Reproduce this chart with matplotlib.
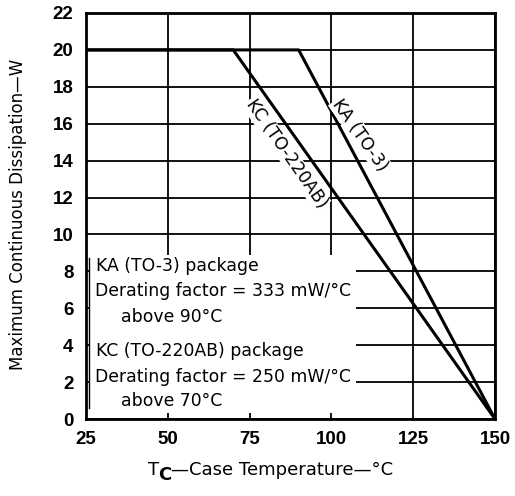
import matplotlib
matplotlib.use("Agg")
import matplotlib.pyplot as plt
from matplotlib.patches import Rectangle

plt.rcParams['font.family'] = ['Liberation Sans', 'DejaVu Sans']

# Data
ka_temp = [25, 90, 150]
ka_power = [20, 20, 0]
kc_temp = [25, 70, 150]
kc_power = [20, 20, 0]
x_ticks = [25, 50, 75, 100, 125, 150]
y_ticks = [0, 2, 4, 6, 8, 10, 12, 14, 16, 18, 20, 22]

fig = plt.figure(figsize=(5.15, 4.96), dpi=100)
ax = fig.add_axes([86/515, 1-419/496, (495-86)/515, (419-13)/496])
ax.set_xlim(25, 150)
ax.set_ylim(0, 22)
ax.set_xticks(x_ticks)
ax.set_yticks(y_ticks)
ax.tick_params(length=0, labelsize=13.5, pad=9)
for lab in ax.get_xticklabels() + ax.get_yticklabels():
    lab.set_fontweight('bold')
ax.grid(True, color='black', linewidth=1.3)
ax.set_axisbelow(True)
for s in ax.spines.values():
    s.set_linewidth(2)
    s.set_zorder(5)

ax.plot(ka_temp, ka_power, color='black', linewidth=2.2, zorder=3, solid_capstyle='butt')
ax.plot(kc_temp, kc_power, color='black', linewidth=2.2, zorder=3, solid_capstyle='butt')

# white notes box
ax.add_patch(Rectangle((26, 0.3), 107.5-26, 8.9-0.3, facecolor='white', edgecolor='none', zorder=2))
ax.plot([26, 26], [0.6, 8.7], color='black', linewidth=1.0, zorder=2.5)

fs = 12.4
box_font = ['DejaVu Sans']
notes = [
    (28.0, 8.3, "KA (TO-3) package"),
    (27.7, 6.95, "Derating factor = 333 mW/°C"),
    (35.7, 5.55, "above 90°C"),
    (28.0, 3.7, "KC (TO-220AB) package"),
    (27.7, 2.3, "Derating factor = 250 mW/°C"),
    (35.7, 0.95, "above 70°C"),
]
for x, y, t in notes:
    ax.text(x, y, t, fontsize=fs, ha='left', va='center', zorder=4, family=box_font)

ax.text(86.2, 14.4, "KC (TO-220AB)", fontsize=12.4, rotation=-55, ha='center', va='center',
        rotation_mode='anchor', zorder=4, family=box_font,
        bbox=dict(facecolor='white', edgecolor='none', pad=0.5))
ax.text(108.8, 15.4, "KA (TO-3)", fontsize=12.4, rotation=-55, ha='center', va='center',
        rotation_mode='anchor', zorder=4, family=box_font,
        bbox=dict(facecolor='white', edgecolor='none', pad=0.5))

fig.text(18/515, 1-214/496, "Maximum Continuous Dissipation—W", rotation=90,
         fontsize=12, ha='center', va='center', family=box_font)

# x label built from pieces: T, lowered C, rest
renderer = fig.canvas.get_renderer()
ybase = 1 - 475/496
t1 = fig.text(148/515, ybase, "T", fontsize=13, ha='left', va='baseline', family=box_font)
bb = t1.get_window_extent(renderer)
t2 = fig.text(bb.x1/515 - 0.002, ybase - 5/496, "C", fontsize=13, ha='left', va='baseline',
              family=box_font, fontweight='bold')
bb2 = t2.get_window_extent(renderer)
fig.text(bb2.x1/515, ybase, "—Case Temperature—°C", fontsize=13, ha='left', va='baseline',
         family=box_font)

fig.savefig("out.png", dpi=100)
